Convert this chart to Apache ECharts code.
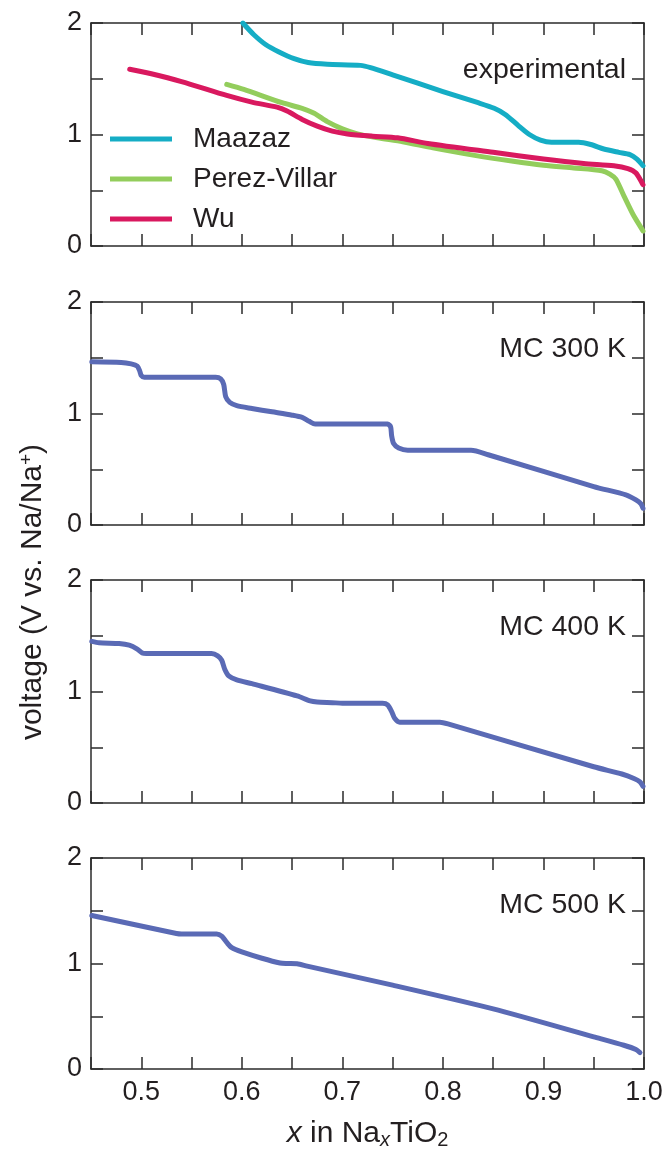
<!DOCTYPE html>
<html>
<head>
<meta charset="utf-8">
<script src="https://cdn.jsdelivr.net/npm/echarts@6/dist/echarts.min.js"></script>
<style>
html,body{margin:0;padding:0;background:#fff;}
#chart{width:668px;height:1151px;}
</style>
</head>
<body>
<div id="chart"></div>
<script>
// ---- data ----
const panelLabels = ["experimental", "MC 300 K", "MC 400 K", "MC 500 K"];
const xTickLabels = ["0.5", "0.6", "0.7", "0.8", "0.9", "1.0"];
const yTickLabels = ["0", "1", "2"];

const maazazX = [0.601,0.612,0.624,0.637,0.652,0.666,0.685,0.718,0.728,0.750,0.800,0.835,0.851,0.862,0.875,0.886,0.897,0.908,0.935,0.947,0.960,0.975,0.986,0.993,0.999];
const maazazV = [2.0,1.895,1.805,1.74,1.68,1.645,1.63,1.62,1.60,1.535,1.385,1.285,1.235,1.18,1.08,1.0,0.95,0.93,0.93,0.91,0.87,0.84,0.82,0.78,0.72];

const perezX = [0.585,0.602,0.640,0.660,0.672,0.685,0.700,0.715,0.735,0.760,0.790,0.830,0.870,0.900,0.930,0.958,0.966,0.972,0.980,0.989,0.997,0.999];
const perezV = [1.45,1.405,1.285,1.235,1.19,1.115,1.05,1.005,0.97,0.935,0.88,0.815,0.76,0.725,0.70,0.675,0.645,0.60,0.45,0.285,0.165,0.135];

const wuX = [0.4885,0.510,0.540,0.585,0.610,0.635,0.645,0.660,0.675,0.690,0.705,0.730,0.755,0.785,0.850,0.900,0.940,0.970,0.984,0.992,0.999];
const wuV = [1.585,1.545,1.475,1.35,1.29,1.245,1.21,1.135,1.075,1.03,1.005,0.985,0.97,0.92,0.84,0.78,0.74,0.72,0.695,0.655,0.55];

const mc300X = [0.4508,0.480,0.490,0.496,0.4985,0.500,0.503,0.574,0.579,0.582,0.584,0.588,0.595,0.610,0.630,0.650,0.660,0.667,0.673,0.745,0.748,0.749,0.751,0.756,0.765,0.828,0.845,0.950,0.982,0.992,0.997,0.999];
const mc300V = [1.464,1.458,1.445,1.425,1.38,1.34,1.325,1.325,1.31,1.26,1.15,1.10,1.07,1.045,1.015,0.985,0.965,0.93,0.905,0.905,0.88,0.80,0.73,0.69,0.67,0.67,0.63,0.345,0.27,0.225,0.19,0.15];

const mc400X = [0.4508,0.458,0.478,0.488,0.496,0.501,0.505,0.570,0.576,0.580,0.583,0.587,0.595,0.610,0.655,0.668,0.675,0.690,0.700,0.740,0.745,0.749,0.752,0.757,0.797,0.805,0.950,0.978,0.990,0.996,0.999];
const mc400V = [1.45,1.437,1.43,1.415,1.38,1.345,1.34,1.34,1.32,1.28,1.20,1.14,1.105,1.07,0.96,0.915,0.905,0.90,0.895,0.895,0.88,0.82,0.76,0.725,0.725,0.71,0.325,0.26,0.22,0.19,0.15];

const mc500X = [0.4508,0.535,0.540,0.575,0.580,0.585,0.590,0.600,0.620,0.638,0.645,0.655,0.665,0.750,0.850,0.950,0.980,0.992,0.996];
const mc500V = [1.455,1.285,1.28,1.28,1.26,1.20,1.15,1.11,1.05,1.005,1.0,0.997,0.975,0.795,0.57,0.305,0.225,0.185,0.155];

// ---- chart ----
const FONT = "'Liberation Sans', Arial, Helvetica, sans-serif";
const TXT = "#231f20";
const AX = "#2b2b2b";
const tops = [23, 302, 580, 858];
const H = 223;
const LEFT = 91, RIGHT = 24;

function zip(xs, vs){ return xs.map((x,i)=>[x, vs[i]]); }

const grids = [], xAxes = [], yAxes = [], series = [], graphics = [];
tops.forEach((t, i) => {
  grids.push({left: LEFT, right: RIGHT, top: t, height: H});
  const base = {
    type: 'value', gridIndex: i, min: 0.45, max: 1.0, interval: 0.05,
    splitLine: {show: false},
    axisLine: {show: true, onZero: false, lineStyle: {color: AX, width: 1.5}},
    axisTick: {show: true, inside: true, length: 12, lineStyle: {color: AX, width: 1.5}}
  };
  xAxes.push(Object.assign({}, base, {
    position: 'bottom',
    axisLabel: {
      show: i === 3, margin: 10, fontSize: 27, color: TXT, fontFamily: FONT,
      showMinLabel: true, showMaxLabel: true,
      formatter: v => { const k = Math.round(v*10); return Math.abs(v*10-k) < 1e-6 ? xTickLabels[k-5] || '' : ''; }
    },
    name: i === 3 ? '{i|x} in Na{s|x}TiO{t|2}' : '',
    nameLocation: 'middle', nameGap: 48,
    nameTextStyle: {
      fontSize: 30, color: TXT, fontFamily: FONT,
      rich: {
        i: {fontSize: 30, fontStyle: 'italic', color: TXT, fontFamily: FONT},
        s: {fontSize: 20, fontStyle: 'italic', color: TXT, fontFamily: FONT, padding: [13,0,0,0]},
        t: {fontSize: 20, color: TXT, fontFamily: FONT, padding: [13,0,0,0]}
      }
    }
  }));
  xAxes.push(Object.assign({}, base, {position: 'top', axisLabel: {show: false}}));
  const ybase = {
    type: 'value', gridIndex: i, min: 0, max: 2, interval: 0.5,
    splitLine: {show: false},
    axisLine: {show: true, onZero: false, lineStyle: {color: AX, width: 1.5}},
    axisTick: {show: true, inside: true, length: 12, lineStyle: {color: AX, width: 1.5}}
  };
  yAxes.push(Object.assign({}, ybase, {
    position: 'left',
    axisLabel: {
      show: true, margin: 9, fontSize: 27, color: TXT, fontFamily: FONT,
      formatter: v => Number.isInteger(v) ? yTickLabels[v] : ''
    }
  }));
  yAxes.push(Object.assign({}, ybase, {position: 'right', axisLabel: {show: false}}));
  graphics.push({
    type: 'text', x: 626, y: t + 47,
    style: {text: panelLabels[i], font: "28.5px " + FONT, fill: TXT, align: 'right', verticalAlign: 'middle'}
  });
});

function line(name, xs, vs, color, gi){
  return {
    name: name, type: 'line', xAxisIndex: gi*2, yAxisIndex: gi*2,
    data: zip(xs, vs), showSymbol: false, smooth: 0.25,
    lineStyle: {color: color, width: 5, join: 'round', cap: 'round'}, itemStyle: {color: color},
    clip: true, silent: true
  };
}
series.push(line('Maazaz', maazazX, maazazV, '#15adc5', 0));
series.push(line('Perez-Villar', perezX, perezV, '#93cd5c', 0));
series.push(line('Wu', wuX, wuV, '#d9195f', 0));
series.push(line('MC 300 K', mc300X, mc300V, '#5a6ab5', 1));
series.push(line('MC 400 K', mc400X, mc400V, '#5a6ab5', 2));
series.push(line('MC 500 K', mc500X, mc500V, '#5a6ab5', 3));

graphics.push({
  type: 'text', x: 33, y: 592, rotation: Math.PI/2,
  style: {
    text: 'voltage (V vs. Na/Na{sup|+})', fill: TXT, font: "30px " + FONT,
    align: 'center', verticalAlign: 'middle',
    rich: {sup: {fontSize: 19, fontFamily: FONT, fill: TXT, padding: [0,0,13,0]}}
  }
});

const chart = echarts.init(document.getElementById('chart'), null, {renderer: 'canvas'});
chart.setOption({
  animation: false,
  backgroundColor: '#fff',
  grid: grids, xAxis: xAxes, yAxis: yAxes, series: series,
  legend: {
    data: ['Maazaz', 'Perez-Villar', 'Wu'],
    orient: 'vertical', left: 110, top: 124, padding: 0,
    icon: 'rect', itemWidth: 62, itemHeight: 5, itemGap: 10,
    textStyle: {fontSize: 28, color: TXT, fontFamily: FONT, lineHeight: 30, padding: [0,0,0,16]},
    selectedMode: false
  },
  graphic: graphics
});
</script>
</body>
</html>
